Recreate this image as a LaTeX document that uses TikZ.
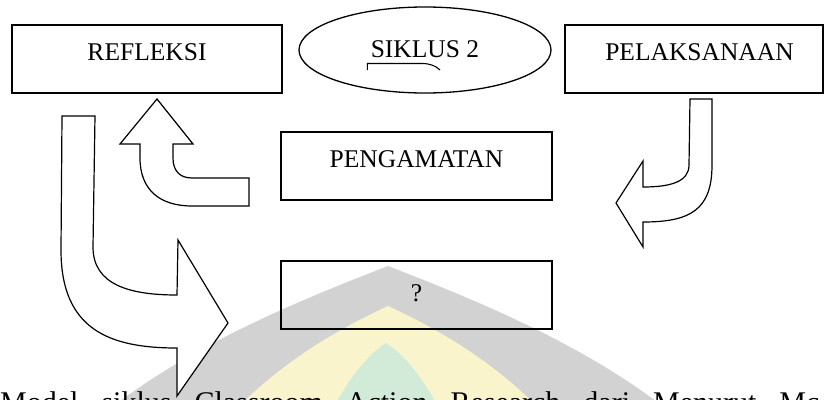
\documentclass[tikz,border=0pt]{standalone}
\usepackage{fontspec}
\setmainfont{Liberation Serif}
\usetikzlibrary{shapes.geometric}
\definecolor{wmgray}{RGB}{210,210,210}
\definecolor{wmyellow}{RGB}{250,244,204}
\definecolor{wmgreen}{RGB}{210,234,216}
\begin{document}
\begin{tikzpicture}[x=1pt,y=-1pt,
  stepbox/.style={draw, line width=1.6pt, rectangle, inner sep=0pt,
    font=\fontsize{25.5}{30}\selectfont, text height=35pt, text depth=33pt},
  cyclebox/.style={draw, line width=1.3pt, ellipse, inner sep=0pt,
    minimum width=252pt, minimum height=86pt},
  lbl/.style={inner sep=0pt, font=\fontsize{25.5}{30}\selectfont},
  blockarrow/.style={draw, fill=white, line width=1.2pt, line join=miter},
  squiggle/.style={line width=1.1pt}]
\useasboundingbox (0,0) rectangle (824,399);
\clip (0,0) rectangle (824,399);

% faint emblem in the background: three nested arches
\fill[wmgray] (388,266) .. controls (470,298) and (590,345) .. (680,420)
  -- (96,420) .. controls (186,345) and (306,298) .. (388,266) -- cycle;
\fill[wmyellow] (388,306) .. controls (440,330) and (500,365) .. (550,420)
  -- (226,420) .. controls (276,365) and (336,330) .. (388,306) -- cycle;
\fill[wmgreen] (386,343) .. controls (405,355) and (425,380) .. (445,420)
  -- (327,420) .. controls (347,380) and (367,355) .. (386,343) -- cycle;

% stages of the cycle
\node[stepbox, minimum width=270pt] (refleksi) at (147,59) {REFLEKSI};
\node[stepbox, minimum width=258pt] (pelaksanaan) at (694,59) {\hspace{11pt}PELAKSANAAN};
\node[stepbox, minimum width=271pt] (pengamatan) at (416.5,166) {PENGAMATAN};
\node[stepbox, minimum width=271pt, text height=40pt, text depth=28pt] (next) at (416.5,295) {?};

% cycle title
\node[cyclebox] (siklus) at (425,50) {};
\node[lbl, anchor=base] (siklus-label) at (425,57) {SIKLUS 2};
\draw[squiggle] (367.3,70) -- (367.3,63.5) -- (422,63.5) .. controls (430,63.5) and (436,66) .. (440,70);

% PELAKSANAAN -> PENGAMATAN
\draw[blockarrow] (690,99) -- (712,99) -- (712,165)
  .. controls (712,210) and (690,222) .. (643,222) -- (643,247) -- (616,203)
  -- (643,161) -- (643,187) .. controls (670,187) and (689,182) .. (689,165) -- cycle;

% PENGAMATAN -> REFLEKSI
\draw[blockarrow] (157,99) -- (193,144) -- (173,144) -- (173,158)
  .. controls (173,171) and (180,178) .. (192,178) -- (249,178) -- (249,206)
  -- (192,206) .. controls (160,206) and (140,190) .. (140,158) -- (140,144)
  -- (120,144) -- cycle;

% REFLEKSI -> next stage
\draw[blockarrow] (62,116) -- (95,116) -- (93,247)
  .. controls (93,285) and (130,295) .. (177,295) -- (178,240) -- (228,323)
  -- (177,396) -- (177,348) .. controls (110,348) and (61,330) .. (61,250) -- cycle;

% caption line
\node[inner sep=0pt, anchor=base west, font=\fontsize{30}{36}\selectfont]
  (caption) at (0,412) {\spaceskip=23pt Model siklus Classroom Action Research dari Menurut Mc Taggart};
\end{tikzpicture}
\end{document}
